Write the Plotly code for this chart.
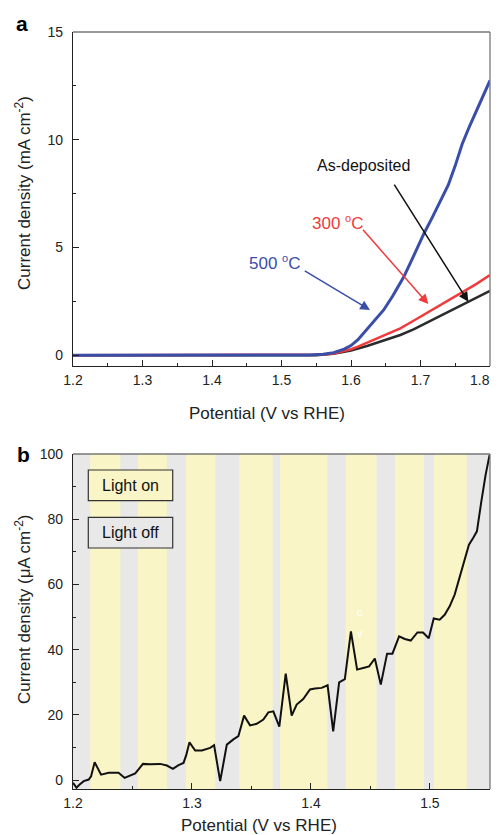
import plotly.graph_objects as go

# ---------------- Panel a data ----------------
v500 = [1.20, 1.30, 1.40, 1.50, 1.54, 1.56, 1.575, 1.59, 1.60, 1.61, 1.623, 1.635, 1.647, 1.66,
        1.676, 1.69, 1.705, 1.717, 1.729, 1.74, 1.75, 1.76, 1.771, 1.78, 1.79, 1.80]
j500 = [0.0, 0.0, 0.0, 0.0, 0.01, 0.05, 0.12, 0.28, 0.45, 0.72, 1.2, 1.65, 2.1, 2.75,
        3.64, 4.6, 5.65, 6.4, 7.2, 7.9, 8.8, 9.8, 10.66, 11.3, 12.0, 12.75]

v300 = [1.20, 1.30, 1.40, 1.50, 1.52, 1.56, 1.575, 1.59, 1.60, 1.61, 1.623, 1.64, 1.655,
        1.671, 1.69, 1.717, 1.74, 1.765, 1.78, 1.80]
j300 = [0.0, 0.0, 0.0, 0.0, 0.0, 0.03, 0.08, 0.18, 0.28, 0.40, 0.58, 0.80, 1.0,
        1.25, 1.6, 2.1, 2.55, 3.02, 3.3, 3.72]

vdep = [1.20, 1.30, 1.40, 1.50, 1.55, 1.575, 1.60, 1.623, 1.645, 1.671, 1.69, 1.717,
        1.74, 1.765, 1.78, 1.80]
jdep = [0.0, 0.0, 0.0, 0.0, 0.0, 0.07, 0.22, 0.43, 0.66, 0.94, 1.2, 1.63,
        2.0, 2.41, 2.65, 2.99]

xticks_a = [1.2, 1.3, 1.4, 1.5, 1.6, 1.7, 1.8]
xticklabels_a = ["1.2", "1.3", "1.4", "1.5", "1.6", "1.7", "1.8"]

# ---------------- Panel b data ----------------
vb = [1.2000, 1.2029, 1.2056, 1.2090, 1.2132, 1.2152, 1.2182, 1.2236, 1.2300, 1.2383,
      1.2434, 1.2482, 1.2523, 1.2551, 1.2588, 1.2649, 1.2733, 1.2789, 1.2840, 1.2887,
      1.2929, 1.2951, 1.2979, 1.3027, 1.3083, 1.3153, 1.3186, 1.3237, 1.3293, 1.3348,
      1.3390, 1.3438, 1.3488, 1.3544, 1.3600, 1.3642, 1.3684, 1.3734, 1.3788, 1.3838,
      1.3880, 1.3935, 1.3992, 1.4034, 1.4090, 1.4140, 1.4187, 1.4237, 1.4285, 1.4336,
      1.4388, 1.4439, 1.4489, 1.4537, 1.4587, 1.4640, 1.4685, 1.4741, 1.4789, 1.4839,
      1.4895, 1.4942, 1.4990, 1.5032, 1.5082, 1.5124, 1.5166, 1.5208, 1.5250, 1.5292,
      1.5328, 1.5362, 1.5395, 1.5432, 1.5468, 1.5502]
jb = [-0.8, -2.3, -1.3, -0.3, 0.2, 1.2, 5.5, 1.7, 2.3, 2.3,
      0.7, 1.4, 2.1, 3.3, 5.0, 4.9, 5.0, 4.5, 3.5, 4.6,
      5.3, 7.6, 11.6, 9.1, 9.1, 9.9, 10.7, -0.3, 10.9, 12.5,
      13.5, 19.8, 16.8, 17.3, 18.6, 20.8, 21.1, 16.4, 32.7, 19.8,
      23.2, 24.9, 27.8, 28.1, 28.3, 29.1, 15.0, 30.0, 31.0, 45.6,
      33.9, 34.4, 34.9, 37.3, 29.3, 38.8, 38.8, 44.1, 43.3, 42.8,
      45.3, 45.3, 43.5, 49.6, 49.2, 50.7, 53.3, 56.9, 62.0, 67.4,
      72.2, 74.2, 76.3, 85.4, 93.6, 99.8]

light_on_start = [1.2146, 1.2546, 1.2949, 1.3398, 1.3740, 1.4291, 1.4705, 1.5032]
light_on_end = [1.2398, 1.2789, 1.3195, 1.3679, 1.4137, 1.4551, 1.4950, 1.5311]
legend_labels = ["Light on", "Light off"]

# ---------------- styling ----------------
FONT = "Liberation Sans, Arial, sans-serif"
BLUE = "#3a4ea8"
RED = "#f03a3c"
BLACK = "#2b2b2b"
YELLOW = "#f9f5c6"
GRAY = "#e8e8e8"

# page body has an 8px margin: compensate so the figure lines up with the window
OFF = 8
W, H = 500 - OFF, 835 - OFF


def px(x):
    return (x - OFF) / W


def py(y):
    return 1 - (y - OFF) / H


# plot-area pixel boxes (window coordinates)
A = dict(l=73, r=490, t=32, b=366)
B = dict(l=73, r=490, t=454, b=789)

fig = go.Figure()
fig.add_trace(go.Scatter(x=vdep, y=jdep, mode="lines", line=dict(color=BLACK, width=2.5),
                         xaxis="x", yaxis="y", showlegend=False))
fig.add_trace(go.Scatter(x=v300, y=j300, mode="lines", line=dict(color=RED, width=2.5),
                         xaxis="x", yaxis="y", showlegend=False))
fig.add_trace(go.Scatter(x=v500, y=j500, mode="lines", line=dict(color=BLUE, width=3),
                         xaxis="x", yaxis="y", showlegend=False))
fig.add_trace(go.Scatter(x=vb, y=jb, mode="lines", line=dict(color="#111111", width=2),
                         xaxis="x2", yaxis="y2", showlegend=False))

tickfont = dict(family=FONT, size=14, color="#222222")
axcommon = dict(showgrid=False, zeroline=False, showline=True, linecolor="#222222",
                linewidth=1.3, ticks="inside", ticklen=6, tickcolor="#222222",
                tickfont=tickfont, mirror=False, automargin=False)

# last tick label of panel a sits at the window edge: draw it as a right-aligned text
tick_text_shown = xticklabels_a[:-1] + [""]

fig.update_layout(
    template="none",
    width=W, height=H, autosize=False,
    margin=dict(l=0, r=0, t=0, b=0, pad=0),
    paper_bgcolor="white", plot_bgcolor="white",
    font=dict(family=FONT),
    xaxis=dict(domain=[px(A["l"]), px(A["r"])], range=[1.2, 1.8], anchor="y",
               tickvals=xticks_a, ticktext=tick_text_shown,
               minor=dict(tickvals=[1.25, 1.35, 1.45, 1.55, 1.65, 1.75], ticks="inside",
                          ticklen=3, tickcolor="#222222"),
               ticklabelstandoff=1, **axcommon),
    yaxis=dict(domain=[py(A["b"]), py(A["t"])], range=[-0.5, 15], anchor="x",
               tickvals=[0, 5, 10, 15],
               minor=dict(tickvals=[2.5, 7.5, 12.5], ticks="inside", ticklen=3,
                          tickcolor="#222222"),
               ticklabelstandoff=6, **axcommon),
    xaxis2=dict(domain=[px(B["l"]), px(B["r"])], range=[1.2, 1.5505], anchor="y2",
                tickvals=[1.2, 1.3, 1.4, 1.5],
                minor=dict(tickvals=[1.25, 1.35, 1.45, 1.55], ticks="inside", ticklen=3,
                           tickcolor="#222222"),
                ticklabelstandoff=1, **axcommon),
    yaxis2=dict(domain=[py(B["b"]), py(B["t"])], range=[-2.7, 100], anchor="x2",
                tickvals=[0, 20, 40, 60, 80, 100],
                minor=dict(tickvals=[10, 30, 50, 70, 90], ticks="inside", ticklen=3,
                           tickcolor="#222222"),
                ticklabelstandoff=6, **axcommon),
)

shapes = []
# background gray for panel b, then yellow light-on bands
shapes.append(dict(type="rect", xref="x2 domain", yref="y2 domain", x0=0, x1=1, y0=0, y1=1,
                   fillcolor=GRAY, line=dict(width=0), layer="below"))
for s, e in zip(light_on_start, light_on_end):
    shapes.append(dict(type="rect", xref="x2", yref="y2 domain", x0=s, x1=e, y0=0, y1=1,
                       fillcolor=YELLOW, line=dict(width=0), layer="below"))
# top / right frame lines (gray)
for box in (A, B):
    shapes.append(dict(type="line", xref="paper", yref="paper", x0=px(box["l"]), x1=px(box["r"]),
                       y0=py(box["t"]), y1=py(box["t"]), line=dict(color="#777777", width=1.3)))
    shapes.append(dict(type="line", xref="paper", yref="paper", x0=px(box["r"]), x1=px(box["r"]),
                       y0=py(box["t"]), y1=py(box["b"]), line=dict(color="#777777", width=1.3)))
# legend boxes
legend_fills = [YELLOW, GRAY]
legend_y = [(470, 500.7), (517.3, 548)]
for fill, (y0, y1) in zip(legend_fills, legend_y):
    shapes.append(dict(type="rect", xref="paper", yref="paper", x0=px(88.3), x1=px(172.7),
                       y0=py(y1), y1=py(y0), fillcolor=fill,
                       line=dict(color="#333333", width=1.2)))
fig.update_layout(shapes=shapes)

ann = []
titlefont = dict(family=FONT, size=17, color="#222222")
C = dict(xanchor="center", yanchor="middle", showarrow=False)
# last x tick label of panel a
ann.append(dict(text=xticklabels_a[-1], x=px(492), y=py(380), xref="paper", yref="paper",
                xanchor="right", yanchor="middle", showarrow=False, font=tickfont))
# panel letters
ann.append(dict(text="<b>a</b>", x=px(22), y=py(23), xref="paper", yref="paper",
                font=dict(family=FONT, size=21, color="black"), **C))
ann.append(dict(text="<b>b</b>", x=px(23), y=py(454), xref="paper", yref="paper",
                font=dict(family=FONT, size=21, color="black"), **C))
# axis titles
ann.append(dict(text="Potential (V vs RHE)", x=px(267), y=py(414), xref="paper", yref="paper",
                font=titlefont, **C))
ann.append(dict(text="Potential (V vs RHE)", x=px(259), y=py(825), xref="paper", yref="paper",
                font=titlefont, **C))
ann.append(dict(text="Current density (mA cm<sup>-2</sup>)", x=px(23), y=py(193), xref="paper",
                yref="paper", textangle=-90, font=titlefont, **C))
ann.append(dict(text="Current density (\u03bcA cm<sup>-2</sup>)", x=px(23), y=py(609), xref="paper",
                yref="paper", textangle=-90, font=titlefont, **C))
# labels in panel a
labfont = 16
sup_o = "<sup><span style='font-size:11px'>o</span></sup>"
ann.append(dict(text="As-deposited", x=1.6173, y=8.81, xref="x", yref="y",
                font=dict(family=FONT, size=labfont, color="#111111"), **C))
ann.append(dict(text="300 " + sup_o + "C", x=1.5813, y=6.17, xref="x", yref="y",
                font=dict(family=FONT, size=labfont + 1, color=RED), **C))
ann.append(dict(text="500 " + sup_o + "C", x=1.4906, y=4.32, xref="x", yref="y",
                font=dict(family=FONT, size=labfont + 1, color=BLUE), **C))
# arrows
for (hx, hy, axo, ayo, col) in [(1.7688, 2.48, -75, -118.7, "#111111"),
                                (1.7112, 2.375, -66.6, -75.7, RED),
                                (1.6273, 2.10, -66.7, -40, BLUE)]:
    ann.append(dict(x=hx, y=hy, xref="x", yref="y", ax=axo, ay=ayo, axref="pixel", ayref="pixel",
                    text="", showarrow=True, arrowhead=2, arrowsize=1.3, arrowwidth=1.5,
                    arrowcolor=col))
# legend texts
for lab, (y0, y1) in zip(legend_labels, legend_y):
    ann.append(dict(text=lab, x=px(130.5), y=py((y0 + y1) / 2), xref="paper", yref="paper",
                    font=dict(family=FONT, size=16, color="#111111"), **C))
# faint white artefacts
ann.append(dict(text="c", x=px(360), y=py(612), xref="paper", yref="paper",
                font=dict(family=FONT, size=11, color="white"), **C))
ann.append(dict(text="v", x=px(360), y=py(633), xref="paper", yref="paper",
                font=dict(family=FONT, size=11, color="white"), **C))
fig.update_layout(annotations=ann)

fig.write_html("out.html")
